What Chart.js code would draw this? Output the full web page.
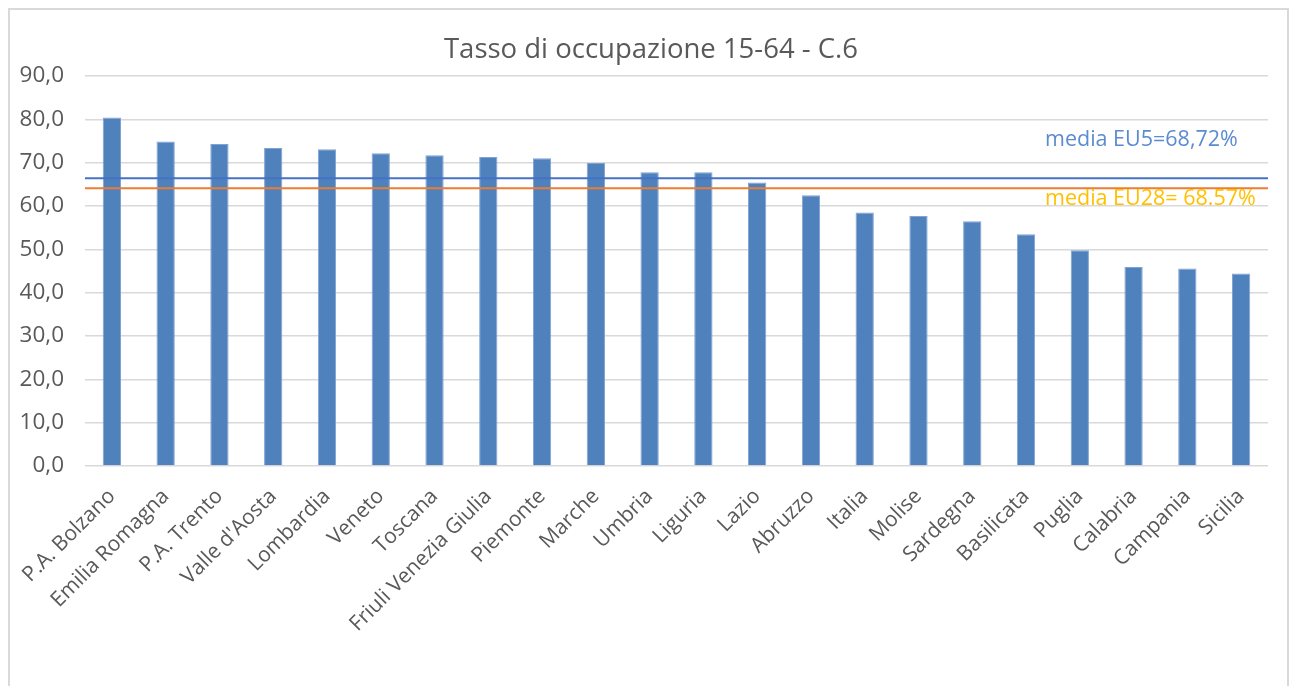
<!DOCTYPE html>
<html>
<head>
  <title>Tasso di occupazione 15-64</title>
  <script src="https://cdn.jsdelivr.net/npm/chart.js"></script>
  <style>
    body {
      margin: 0;
      background: white;
      overflow: hidden;
      font-family: 'Open Sans', sans-serif;
    }

    .frame {
      position: absolute;
      left: 8px;
      top: 8px;
      width: 1277px;
      height: 700px;
      border: 2px solid #d9d9d9;
    }

    #chart {
      position: absolute;
      left: 0;
      top: 0;
    }
  </style>
</head>
<body>

  <div class="frame"></div>
  <canvas id="chart" width="1293" height="686"></canvas>

  <script>
    const regions = ["P.A. Bolzano", "Emilia Romagna", "P.A. Trento", "Valle d'Aosta", "Lombardia", "Veneto",
      "Toscana", "Friuli Venezia Giulia", "Piemonte", "Marche", "Umbria", "Liguria", "Lazio", "Abruzzo",
      "Italia", "Molise", "Sardegna", "Basilicata", "Puglia", "Calabria", "Campania", "Sicilia"];
    const rates = [80.4, 74.9, 74.3, 73.4, 73.1, 72.2, 71.7, 71.3, 71.0, 69.9, 67.8, 67.8, 65.4, 62.5,
      58.5, 57.7, 56.5, 53.5, 49.8, 45.9, 45.6, 44.4];
    const mediaEU5 = 66.4;
    const mediaEU28 = 64.1;
    const labelEU5 = "media EU5=68,72%";
    const labelEU28 = "media EU28= 68.57%";

    const grey = '#595959';
    const gridGrey = '#d9d9d9';

    // scritte accanto alle due medie
    const mediaLabels = {
      id: 'mediaLabels',
      afterDatasetsDraw(chart) {
        const { ctx, chartArea, scales } = chart;
        const x = chartArea.left + 960;
        ctx.save();
        ctx.font = "21.5px 'Open Sans', sans-serif";
        ctx.textAlign = 'left';
        ctx.textBaseline = 'middle';
        ctx.fillStyle = '#5b8bd0';
        ctx.fillText(labelEU5, x, scales.y.getPixelForValue(mediaEU5) - 38);
        ctx.fillStyle = '#ffc000';
        ctx.fillText(labelEU28, x, scales.y.getPixelForValue(mediaEU28) + 11);
        ctx.restore();
      }
    };

    const ctx = document.getElementById('chart').getContext('2d');
    const chart = new Chart(ctx, {
      type: 'bar',
      data: {
        labels: regions,
        datasets: [{
          label: 'Tasso di occupazione',
          data: rates,
          backgroundColor: '#4f81bd',
          borderColor: '#7fa3d3',
          borderWidth: 1,
          barPercentage: 0.34,
          categoryPercentage: 1,
          grouped: false,
          order: 2
        }, {
          type: 'line',
          label: labelEU5,
          data: [{ x: 0, y: mediaEU5 }, { x: 1, y: mediaEU5 }],
          xAxisID: 'x2',
          borderColor: '#4472c4',
          borderWidth: 2,
          pointRadius: 0,
          order: 1
        }, {
          type: 'line',
          label: labelEU28,
          data: [{ x: 0, y: mediaEU28 }, { x: 1, y: mediaEU28 }],
          xAxisID: 'x2',
          borderColor: '#ed7d31',
          borderWidth: 2,
          pointRadius: 0,
          order: 0
        }]
      },
      options: {
        responsive: false,
        animation: false,
        layout: {
          padding: { top: 0, right: 8, bottom: 0, left: 17 }
        },
        scales: {
          x: {
            grid: { display: false },
            border: { display: false },
            ticks: {
              color: grey,
              font: { family: 'Open Sans', size: 21 },
              minRotation: 45,
              maxRotation: 45,
              autoSkip: false,
              padding: 10
            },
            afterFit(scale) { scale.height = 220; }
          },
          x2: {
            type: 'linear',
            min: 0,
            max: 1,
            offset: false,
            display: false
          },
          y: {
            min: 0,
            max: 90,
            grid: { color: gridGrey, lineWidth: 1.5, drawTicks: false },
            border: { display: false },
            ticks: {
              stepSize: 10,
              color: grey,
              font: { family: 'Open Sans', size: 22.5 },
              padding: 21,
              callback: v => v.toFixed(1).replace('.', ',')
            },
            afterFit(scale) { scale.width = 68; }
          },
          // margine vuoto a destra, per centrare il titolo come nell'originale
          yRight: {
            position: 'right',
            min: 0,
            max: 90,
            grid: { display: false },
            border: { display: false },
            ticks: { display: false },
            afterFit(scale) { scale.width = 17; }
          }
        },
        plugins: {
          legend: { display: false },
          tooltip: { enabled: false },
          title: {
            display: true,
            text: 'Tasso di occupazione 15-64 - C.6',
            color: grey,
            font: { family: 'Open Sans', size: 27.5, weight: 'normal' },
            padding: { top: 34, bottom: 9 }
          }
        }
      },
      plugins: [mediaLabels]
    });
  </script>

</body>
</html>
